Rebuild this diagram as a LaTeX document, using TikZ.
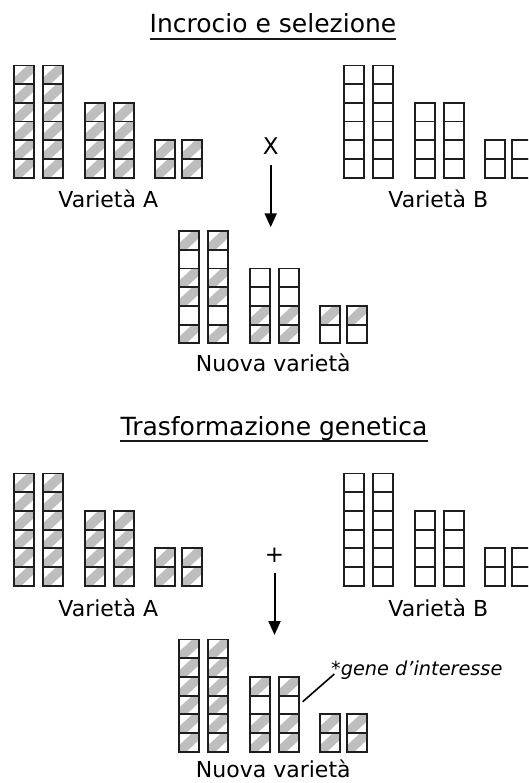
\documentclass[tikz,border=0pt]{standalone}
\usepackage{fontspec}
\setmainfont{DejaVu Sans}
\usetikzlibrary{arrows.meta}
\definecolor{cellc}{HTML}{1E1E1E}
\definecolor{hatchc}{HTML}{BEBEBE}
\newcommand\cellbox[3]{%
  \ifnum#3=1 \fill[hatchc] (#1,#2) -- ++(7,0) -- ++(13,-12) -- ++(0,-6.7) -- ++(-7,0) -- ++(-13,12) -- cycle;\fi
  \draw[cellline] (#1,#2) rectangle ++(20,-18.7);
}
\newcommand\colm[3]{%
  \foreach \b [count=\i from 0] in {#3} {\cellbox{#1}{#2-\i*18.7}{\b}}%
}
\newcommand\plants[5]{%
  \foreach \cx in {14.3,43.3} {\colm{#1+\cx}{#2}{#3}}%
  \foreach \cx in {85.3,114.3} {\colm{#1+\cx}{#2}{#4}}%
  \foreach \cx in {155,182.3} {\colm{#1+\cx}{#2}{#5}}%
}
\begin{document}
\begin{tikzpicture}[x=1pt,y=-1pt,
  cellline/.style={draw=cellc,line width=1.8pt},
  lab/.style={inner sep=0pt,font=\fontsize{22}{26}\selectfont,text=black},
  ttl/.style={inner sep=0pt,font=\fontsize{25}{30}\selectfont,text=black},
  sym/.style={inner sep=0pt,font=\fontsize{23}{27}\selectfont,text=black},
  gene/.style={inner sep=0pt,font=\fontsize{19.3}{23}\selectfont\itshape,text=black},
  ul/.style={draw=black!90,line width=1.8pt},
  arr/.style={draw=black,line width=2pt,-{Triangle[width=12pt,length=14pt]}},
  conn/.style={draw=black,line width=1.6pt}]
\useasboundingbox (0,0) rectangle (528,783);
\clip (0,0) rectangle (528,783);
% Section 1
\node[ttl,anchor=base] (t1) at (273,33) {Incrocio e selezione};
\draw[ul] ([yshift=-6.3pt]t1.base west) -- ([yshift=-6.3pt]t1.base east);
\plants{0}{177.7}{1,1,1,1,1,1}{1,1,1,1}{1,1}
\plants{330}{177.7}{0,0,0,0,0,0}{0,0,0,0}{0,0}
\node[lab,anchor=base] (va1) at (108.3,208) {Varietà A};
\node[lab,anchor=base] (vb1) at (438.3,208) {Varietà B};
\node[sym,anchor=base] (cross) at (270.7,155) {X};
\coordinate (a1s) at (270.7,165);
\coordinate (a1e) at (270.7,227.3);
\draw[arr] (a1s) -- (a1e);
\plants{165}{343.3}{1,0,1,1,0,1}{1,1,0,0}{0,1}
\node[lab,anchor=base] (nv1) at (273.3,371.5) {Nuova varietà};
% Section 2
\node[ttl,anchor=base] (t2) at (274,435) {Trasformazione genetica};
\draw[ul] ([yshift=-6.3pt]t2.base west) -- ([yshift=-6.3pt]t2.base east);
\plants{0}{585.7}{1,1,1,1,1,1}{1,1,1,1}{1,1}
\plants{330}{585.7}{0,0,0,0,0,0}{0,0,0,0}{0,0}
\node[lab,anchor=base] (va2) at (108.3,616.3) {Varietà A};
\node[lab,anchor=base] (vb2) at (438.3,616.3) {Varietà B};
\node[sym,anchor=base] (plus) at (274.5,562) {+};
\coordinate (a2s) at (274.5,573.3);
\coordinate (a2e) at (274.5,635);
\draw[arr] (a2s) -- (a2e);
\plants{165}{751.7}{1,1,1,1,1,1}{1,1,0,1}{1,1}
\node[lab,anchor=base] (nv2) at (273.3,777) {Nuova varietà};
\coordinate (g1) at (302.7,701.7);
\coordinate (g2) at (334.3,674);
\draw[conn] (g1) -- (g2);
\node[gene,anchor=base west] (gtxt) at (331,675) {*gene d’interesse};
\end{tikzpicture}
\end{document}
